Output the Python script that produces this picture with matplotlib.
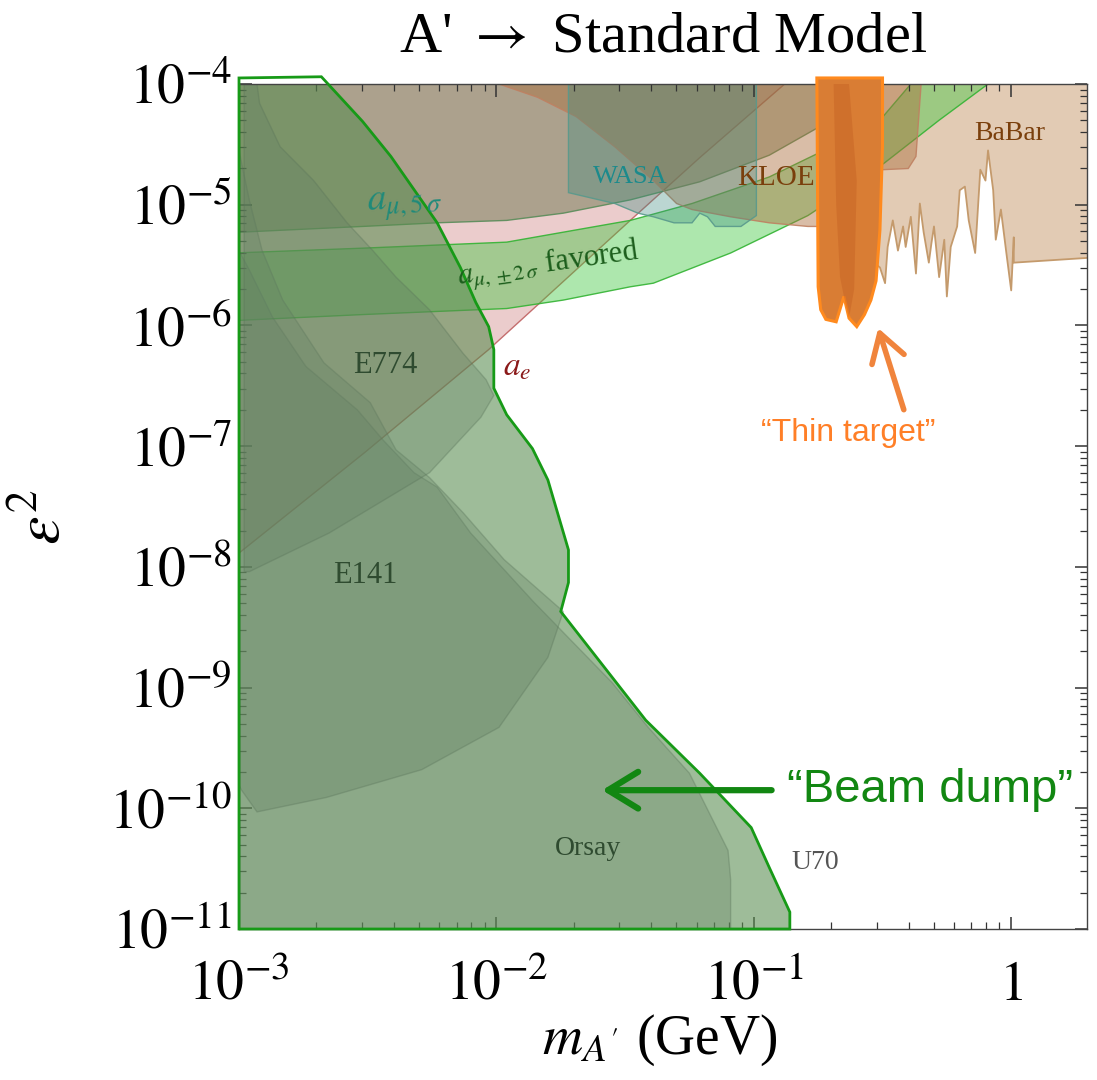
import numpy as np
import matplotlib
matplotlib.use("Agg")
import matplotlib.pyplot as plt
from matplotlib.patches import Polygon
from matplotlib.ticker import LogLocator, NullFormatter

plt.rcParams['font.family'] = ['Liberation Serif', 'DejaVu Serif']
plt.rcParams['mathtext.fontset'] = 'stix'

# ---- values: log10(m_A' / GeV), log10(eps^2) ----
# beam dump envelope (green outline)
env_lm = [-3.00, -2.68, -2.52, -2.41, -2.23, -2.14, -2.08, -2.03, -2.01, -2.01, -1.96, -1.86,
          -1.80, -1.72, -1.72, -1.75, -1.42, -1.21, -1.01, -0.94, -0.86, -0.86, -3.00]
env_le = [-3.95, -3.94, -4.31, -4.60, -5.15, -5.52, -5.81, -6.01, -6.20, -6.52, -6.74, -7.02,
          -7.28, -7.86, -8.13, -8.37, -9.27, -9.71, -10.16, -10.49, -10.86, -11.00, -11.00]

orsay_lm = [-3.00, -1.09, -1.09, -1.10, -1.25, -1.41, -1.55, -1.86, -2.10, -2.23, -2.32,
            -2.44, -2.54, -2.74, -2.87, -2.96, -3.00]
orsay_le = [-11.00, -11.00, -10.59, -10.35, -9.71, -9.33, -8.96, -8.28, -7.72, -7.34, -7.22,
            -6.95, -6.70, -6.34, -5.93, -5.54, -5.38]

e141_lm = [-3.00, -2.99, -2.93, -2.66, -2.29, -1.99, -1.80, -1.74, -1.97, -2.13, -2.26,
           -2.39, -2.49, -2.67, -2.83, -2.91, -2.96, -3.00]
e141_le = [-9.81, -9.85, -10.03, -9.91, -9.68, -9.33, -8.75, -8.37, -7.94, -7.55, -7.26,
           -7.03, -6.64, -6.31, -5.79, -5.38, -4.96, -4.55]

e774_lm = [-2.98, -2.93, -2.92, -2.84, -2.71, -2.58, -2.48, -2.39, -2.26, -2.13, -2.04,
           -2.01, -2.06, -2.26, -2.65, -2.96, -2.98]
e774_le = [-4.00, -4.00, -4.16, -4.52, -4.80, -5.15, -5.38, -5.60, -5.87, -6.23, -6.45,
           -6.58, -6.76, -7.22, -7.72, -8.04, -8.04]

# electron g-2 bound (excluded above)
ae_lm = [-3.02, -2.51, -2.03, -1.48, -1.21, -0.88, -0.82]
ae_le = [-7.92, -7.05, -6.20, -5.13, -4.61, -4.00, -3.88]

# muon g-2: 5 sigma exclusion (above) and +-2 sigma favoured band
mu5_lm = [-3.02, -2.52, -2.23, -1.96, -1.74, -1.48, -1.21, -0.94, -0.70, -0.53]
mu5_le = [-5.23, -5.18, -5.15, -5.13, -5.07, -4.96, -4.81, -4.59, -4.30, -4.00]

mu2hi_lm = [-3.02, -2.52, -1.96, -1.48, -1.24, -0.94, -0.64, -0.51, -0.39]
mu2hi_le = [-5.40, -5.36, -5.31, -5.13, -4.99, -4.77, -4.46, -4.30, -4.00]
mu2lo_lm = [-3.02, -2.52, -1.96, -1.74, -1.48, -1.39, -1.09, -0.79, -0.64, -0.49, -0.28, -0.09]
mu2lo_le = [-5.96, -5.91, -5.86, -5.79, -5.68, -5.65, -5.40, -5.09, -4.88, -4.65, -4.30, -4.00]

wasa_lm = [-1.72, -1.72, -1.54, -1.45, -1.39, -1.31, -1.24, -1.21, -1.18, -1.15, -1.05, -0.99, -0.99]
wasa_le = [-4.00, -4.90, -4.99, -5.07, -5.10, -5.15, -5.15, -5.07, -5.10, -5.18, -5.18, -5.09, -4.00]

kloe_lm = [-1.99, -1.84, -1.69, -1.54, -1.39, -1.30, -1.24, -1.09, -0.94, -0.79, -0.75,
           -0.63, -0.55, -0.50, -0.40, -0.37, -0.35]
kloe_le = [-4.00, -4.11, -4.27, -4.52, -4.80, -4.99, -5.04, -5.10, -5.15, -5.18, -5.18,
           -5.09, -4.88, -4.71, -4.70, -4.60, -4.00]

# BaBar lower edge (jagged), left to right
babar_lm = [-0.63, -0.63, -0.55, -0.51, -0.49, -0.48, -0.46, -0.44, -0.42, -0.41, -0.39,
            -0.37, -0.355, -0.34, -0.32, -0.31, -0.30, -0.28, -0.26, -0.25, -0.235, -0.21,
            -0.20, -0.18, -0.165, -0.14, -0.12, -0.10, -0.09, -0.07, -0.06, -0.04, -0.02,
            0.00, 0.01, 0.01, 0.30]
babar_le = [-4.00, -5.35, -5.45, -5.52, -5.65, -5.35, -5.13, -5.38, -5.18, -5.35, -5.10,
            -5.57, -4.99, -5.23, -5.48, -5.32, -5.18, -5.60, -5.29, -5.76, -5.35, -5.18,
            -4.88, -4.85, -5.13, -5.40, -4.71, -4.80, -4.55, -4.88, -5.29, -5.04, -5.38,
            -5.71, -5.27, -5.48, -5.44]

# thin target (orange), outer outline and the darker overlap in the middle
thin_lm = [-0.755, -0.75, -0.74, -0.72, -0.68, -0.65, -0.63, -0.60, -0.57, -0.545, -0.525,
           -0.51, -0.50, -0.50]
thin_le = [-3.95, -5.68, -5.87, -5.95, -5.97, -5.76, -5.94, -6.01, -5.91, -5.79, -5.63,
           -5.21, -4.52, -3.95]
thin_in_lm = [-0.69, -0.68, -0.665, -0.65, -0.63, -0.61, -0.60, -0.63]
thin_in_le = [-4.00, -5.00, -5.60, -5.76, -5.94, -5.70, -4.80, -4.00]


def region(ax, lm, le, **kw):
    pts = np.column_stack([10.0 ** np.asarray(lm, float), 10.0 ** np.asarray(le, float)])
    ax.add_patch(Polygon(pts, closed=True, **kw))


def above(lm, le):
    # close a boundary curve through the top of the plot
    return list(lm) + [lm[-1], lm[0]], list(le) + [-3.5, -3.5]


fig = plt.figure(figsize=(10.97, 10.8), dpi=100)
ax = fig.add_axes([239 / 1097, 1 - 929 / 1080, 848 / 1097, 845 / 1080])
ax.set_xscale('log')
ax.set_yscale('log')
ax.set_xlim(1e-3, 1.97)
ax.set_ylim(1e-11, 1e-4)

# === g-2 regions ===
lm, le = above(ae_lm, ae_le)
region(ax, lm, le, facecolor=(0.78, 0.43, 0.43, 0.35), edgecolor=(0.75, 0.38, 0.38, 0.9), lw=1.0, zorder=1)
lm, le = above(mu5_lm, mu5_le)
region(ax, lm, le, facecolor=(0.43, 0.47, 0.31, 0.5), edgecolor=(0.35, 0.55, 0.35, 0.9), lw=1.0, zorder=1.2)
region(ax, mu2hi_lm + mu2lo_lm[::-1], mu2hi_le + mu2lo_le[::-1],
       facecolor=(0.24, 0.78, 0.24, 0.42), edgecolor=(0.2, 0.7, 0.2, 0.9), lw=1.0, zorder=1.3)

# === meson decay / collider regions ===
lm, le = list(babar_lm) + [0.30, -0.63], list(babar_le) + [-3.5, -3.5]
region(ax, lm, le, facecolor=(0.75, 0.55, 0.35, 0.45), edgecolor='none', zorder=1.1)
ax.plot(10.0 ** np.array(babar_lm[1:]), 10.0 ** np.array(babar_le[1:]), color='#c49a6c', lw=1.3, zorder=1.15)
region(ax, kloe_lm, kloe_le, facecolor=(0.67, 0.43, 0.24, 0.45), edgecolor=(0.75, 0.5, 0.38, 0.9), lw=1.0, zorder=1.4)
region(ax, wasa_lm, wasa_le, facecolor=(0.24, 0.55, 0.5, 0.35), edgecolor=(0.35, 0.6, 0.55, 0.9), lw=1.0, zorder=1.5)

# === beam dump regions ===
region(ax, env_lm, env_le, facecolor=(0.35, 0.55, 0.31, 0.58), edgecolor='none', zorder=1.6)
for xs, ys in [(orsay_lm, orsay_le), (e141_lm, e141_le), (e774_lm, e774_le)]:
    region(ax, xs, ys, facecolor=(0.39, 0.5, 0.39, 0.3), edgecolor=(0.35, 0.45, 0.35, 0.35), lw=1.0, zorder=1.7)
region(ax, env_lm, env_le, facecolor='none', edgecolor='#179a17', lw=2.0, zorder=3, clip_on=False)

# === thin target ===
region(ax, thin_lm, thin_le, facecolor='#d97d34', edgecolor='#ff8a1e', lw=2.2, zorder=4, clip_on=False)
region(ax, thin_in_lm, thin_in_le, facecolor=(0.75, 0.35, 0.12, 0.35), edgecolor='none', zorder=4.1)

# === axes styling ===
ax.set_xticks([1e-3, 1e-2, 1e-1, 1])
ax.set_xticklabels([r'$10^{-3}$', r'$10^{-2}$', r'$10^{-1}$', r'$1$'])
ax.set_yticks([10.0 ** k for k in range(-11, -3)])
ax.set_yticklabels([r'$10^{%d}$' % k for k in range(-11, -3)])
ax.xaxis.set_minor_locator(LogLocator(base=10, subs=np.arange(2, 10), numticks=20))
ax.yaxis.set_minor_locator(LogLocator(base=10, subs=np.arange(2, 10), numticks=20))
ax.xaxis.set_minor_formatter(NullFormatter())
ax.yaxis.set_minor_formatter(NullFormatter())
ax.tick_params(which='both', direction='in', top=True, right=True, colors='#333333')
ax.tick_params(which='major', length=9, width=1.1, labelsize=40, labelcolor='black')
ax.tick_params(which='minor', length=5, width=0.9)
ax.tick_params(axis='x', which='major', pad=22)
ax.tick_params(axis='y', which='major', pad=5)
for s in ax.spines.values():
    s.set_color('#444444')
    s.set_linewidth(1.0)

# === labels ===
def lbl(lm, le, s, **kw):
    ax.text(10.0 ** lm, 10.0 ** le, s, ha='center', va='center', zorder=6, **kw)

lbl(-1.48, -4.77, 'WASA', color='#1b8a8c', fontsize=19)
lbl(-0.915, -4.78, 'KLOE', color='#7a3f0c', fontsize=21)
lbl(-0.006, -4.41, 'BaBar', color='#7a3f0c', fontsize=20)
lbl(-2.43, -6.33, 'E774', color='#2f4b30', fontsize=22)
lbl(-2.51, -8.07, 'E141', color='#2f4b30', fontsize=22)
lbl(-1.645, -10.33, 'Orsay', color='#2f4b30', fontsize=20)
lbl(-0.76, -10.45, 'U70', color='#555555', fontsize=20)
lbl(-2.355, -5.00, r'$a_{\mu,5\,\sigma}$', color='#1f8a7a', fontsize=27, rotation=3)
lbl(-1.80, -5.50, r'$a_{\mu,\pm 2\,\sigma}$ favored', color='#1c5e1c', fontsize=22, rotation=8)
lbl(-1.92, -6.35, r'$a_e$', color='#8b1a1a', fontsize=24)

arrow_style = '->, head_length=0.9, head_width=0.55'
ax.annotate('', xy=(10.0 ** -0.52, 10.0 ** -6.00), xytext=(10.0 ** -0.414, 10.0 ** -6.72),
            arrowprops=dict(arrowstyle=arrow_style, color='#f0843c', lw=4, mutation_scale=22),
            zorder=7, annotation_clip=False)
lbl(-0.635, -6.89, '\u201cThin target\u201d', color='#ff7f27', fontsize=23,
    family=['Liberation Sans', 'DejaVu Sans'])
ax.annotate('', xy=(10.0 ** -1.60, 10.0 ** -9.85), xytext=(10.0 ** -0.92, 10.0 ** -9.85),
            arrowprops=dict(arrowstyle=arrow_style, color='#128712', lw=4.5, mutation_scale=24),
            zorder=7, annotation_clip=False)
ax.text(10.0 ** -0.87, 10.0 ** -9.85, '\u201cBeam dump\u201d', ha='left', va='center', color='#128712',
        fontsize=34, family=['Liberation Sans', 'DejaVu Sans'], zorder=7)

fig.text(663 / 1097, 1 - 38 / 1080, "A' $\\rightarrow$ Standard Model", ha='center', va='center', fontsize=42)
fig.text(660 / 1097, 1 - 1040 / 1080, r"$m_{A'}$ (GeV)", ha='center', va='center', fontsize=40)
fig.text(45 / 1097, 1 - 517 / 1080, r"$\epsilon^2$", ha='center', va='center', fontsize=46, rotation=90)

fig.savefig('out.png', dpi=100)
